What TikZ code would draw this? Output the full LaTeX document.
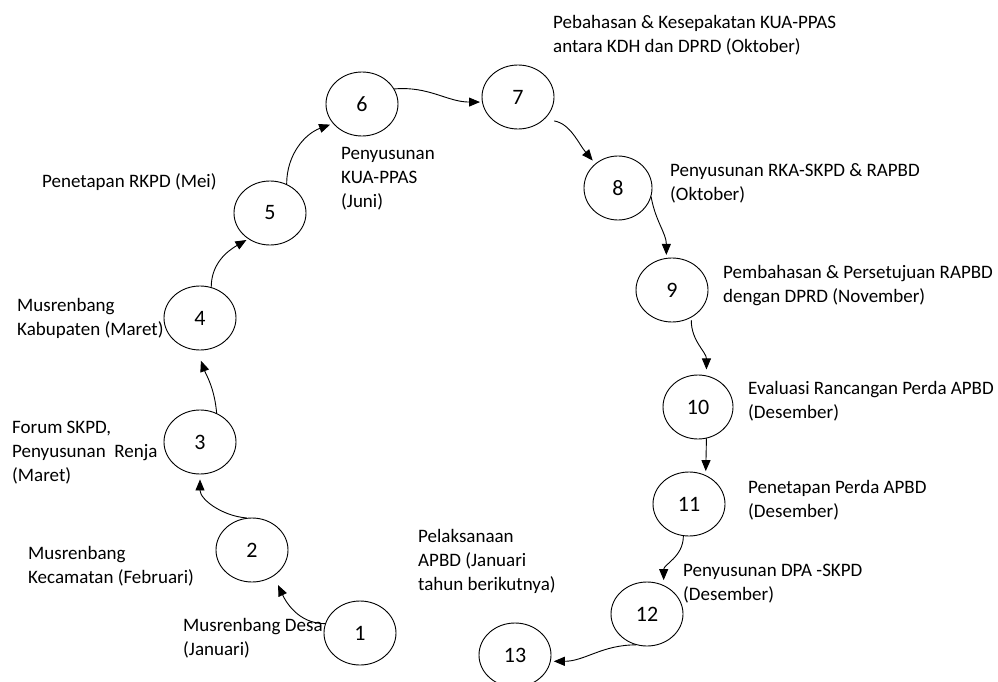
\documentclass[tikz,border=0pt]{standalone}
\usepackage{fontspec}
\setmainfont{Carlito}
\usepackage{tikz}
\usetikzlibrary{shapes.geometric,arrows.meta}

\begin{document}
\begin{tikzpicture}[x=1pt, y=-1pt, line cap=round, line join=round,
  stage/.style={draw, ellipse, line width=0.9pt, minimum width=72pt, minimum height=64pt,
    inner sep=0pt, font=\fontsize{22}{24}\selectfont},
  lbl/.style={anchor=base west, align=left, inner sep=0pt, font=\fontsize{19}{24}\selectfont},
  flow/.style={line width=0.9pt, -{Triangle[length=11pt, width=9pt]}}]

\useasboundingbox (0,0) rectangle (998,682);

% --- the thirteen stages (ellipses, pixel positions) ---
\node[stage] (n1)  at (360,633) {1};
\node[stage] (n2)  at (252,550) {2};
\node[stage] (n3)  at (200,442) {3};
\node[stage] (n4)  at (200,318) {4};
\node[stage] (n5)  at (270,213) {5};
\node[stage] (n6)  at (362,104) {6};
\node[stage] (n7)  at (518,97)  {7};
\node[stage, minimum width=68pt] (n8) at (618,188) {8};
\node[stage] (n9)  at (672,290) {9};
\node[stage, minimum width=70pt] (n10) at (698,407) {10};
\node[stage] (n11) at (689,504) {11};
\node[stage] (n12) at (647,614) {12};
\node[stage] (n13) at (515,655) {13};

% --- texts beside the stages (anchored at the baseline of the last line) ---
\node[lbl] (t1)  at (183,655) {Musrenbang Desa\\(Januari)};
\node[lbl] (t2)  at (28,583)  {Musrenbang\\Kecamatan (Februari)};
\node[lbl] (t3)  at (12,481)  {Forum SKPD,\\Penyusunan\ \ Renja\\(Maret)};
\node[lbl] (t4)  at (17,335)  {Musrenbang\\Kabupaten (Maret)};
\node[lbl] (t5)  at (42,187)  {Penetapan RKPD (Mei)};
\node[lbl] (t6)  at (341,207) {Penyusunan\\KUA-PPAS\\(Juni)};
\node[lbl] (t7)  at (553,53)  {Pebahasan \& Kesepakatan KUA-PPAS\\antara KDH dan DPRD (Oktober)};
\node[lbl] (t8)  at (670,200) {Penyusunan RKA-SKPD \& RAPBD\\(Oktober)};
\node[lbl] (t9)  at (723,302) {Pembahasan \& Persetujuan RAPBD\\dengan DPRD (November)};
\node[lbl] (t10) at (748,418) {Evaluasi Rancangan Perda APBD\\(Desember)};
\node[lbl] (t11) at (748,517) {Penetapan Perda APBD\\(Desember)};
\node[lbl] (t12) at (683,600) {Penyusunan DPA -SKPD\\(Desember)};
\node[lbl] (t13) at (418,590) {Pelaksanaan\\APBD (Januari\\tahun berikutnya)};

% --- the cycle (wavy arrows, hand drawn look) ---
\draw[flow, shorten >=10pt] (n1.165) to[out=180, in=-65] (n2.-50);
\draw[flow, shorten >=5pt]  (n2.100) to[out=175, in=-90] (n3.south);
\draw[flow, shorten >=11pt] (n3.60)  to[out=95, in=-70] (n4.-95);
\draw[flow, shorten >=2pt]  (n4.70)  to[out=90, in=210] (n5.-130);
\draw[flow, shorten >=3pt]  (n5.60)  to[out=90, in=200] (n6.-146);
\draw[flow, shorten >=2pt]  (n6.25)  to[out=5, in=180]  (n7.188);
\draw[flow, shorten <=10pt, shorten >=4pt] (n7.-40) to[out=-10, in=130] (n8.133);
\draw[flow, shorten >=3pt]  (n8.-15) to[out=-80, in=90] (n9.100);
\draw[flow, shorten <=3pt, shorten >=6pt] (n9.-55) to[out=-90, in=90] (n10.75);
\draw[flow, shorten >=4pt]  (n10.-75) -- (n11.60);
\draw[flow, shorten >=5pt]  (n11.-100) to[out=-90, in=90] (n12.60);
\draw[flow, shorten >=3pt]  (n12.-110) to[out=180, in=0] (n13.-10);

\end{tikzpicture}
\end{document}
